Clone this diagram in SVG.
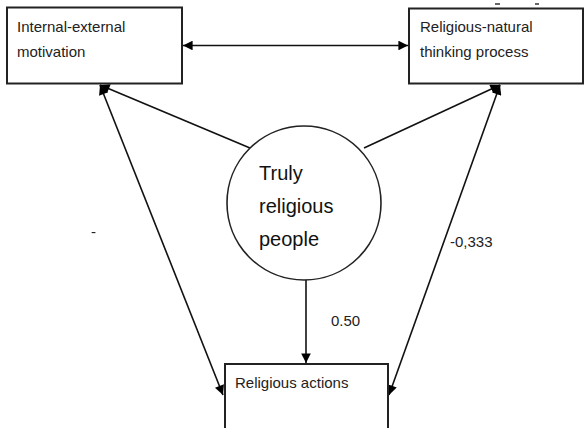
<svg xmlns="http://www.w3.org/2000/svg" width="587" height="428" viewBox="0 0 587 428">
  <defs>
    <marker id="arrow" viewBox="0 0 10 10" refX="10" refY="5" markerWidth="6.5" markerHeight="6" orient="auto-start-reverse" markerUnits="strokeWidth">
      <path d="M0,0 L10,5 L0,10 Z" fill="#000"/>
    </marker>
    <style>
      .box { fill: #fff; stroke: #222; stroke-width: 2; }
      .circ { fill: #fff; stroke: #222; stroke-width: 1.6; }
      .lbl { font-family: "Liberation Sans", Arial, sans-serif; font-size: 15px; fill: #222; }
      .big { font-family: "Liberation Sans", Arial, sans-serif; font-size: 20px; fill: #111; }
      .edge { stroke: #111; stroke-width: 1.6; fill: none; }
      .tick { stroke: #333; stroke-width: 1.5; }
    </style>
  </defs>
  <rect width="587" height="428" fill="#fff"/>

  <g id="connectors">
    <line class="edge" x1="183" y1="45.5" x2="408" y2="45.5" marker-start="url(#arrow)" marker-end="url(#arrow)"/>
    <line class="edge" x1="250" y1="148" x2="100" y2="85" marker-end="url(#arrow)"/>
    <line class="edge" x1="364" y1="148" x2="500" y2="85" marker-end="url(#arrow)"/>
    <line class="edge" x1="100" y1="85" x2="223" y2="395" marker-start="url(#arrow)" marker-end="url(#arrow)"/>
    <line class="edge" x1="500" y1="85" x2="389" y2="395" marker-start="url(#arrow)" marker-end="url(#arrow)"/>
    <line class="edge" x1="306" y1="279" x2="306" y2="363" marker-end="url(#arrow)"/>
  </g>

  <g id="internal-external">
    <rect class="box" x="7" y="7.5" width="175" height="76"/>
    <text class="lbl" x="17" y="32">Internal-external</text>
    <text class="lbl" x="17" y="57">motivation</text>
  </g>

  <g id="religious-natural">
    <rect class="box" x="409" y="8.5" width="174" height="75"/>
    <text class="lbl" x="420" y="32">Religious-natural</text>
    <text class="lbl" x="420" y="57">thinking process</text>
  </g>

  <g id="truly-religious">
    <circle class="circ" cx="304" cy="203" r="77"/>
    <text class="big" x="259" y="180">Truly</text>
    <text class="big" x="259" y="213">religious</text>
    <text class="big" x="259" y="246">people</text>
  </g>

  <g id="religious-actions">
    <rect class="box" x="225" y="364" width="163" height="80"/>
    <text class="lbl" x="235" y="388">Religious actions</text>
  </g>

  <g id="weights">
    <text class="lbl" x="331" y="326">0.50</text>
    <text class="lbl" x="450" y="247">-0,333</text>
    <text class="lbl" x="91" y="237">-</text>
  </g>

  <!-- small marks above the upper-right box -->
  <g id="marks">
    <line class="tick" x1="495" y1="4" x2="500" y2="4"/>
    <line class="tick" x1="535" y1="4" x2="539" y2="4"/>
  </g>
</svg>
